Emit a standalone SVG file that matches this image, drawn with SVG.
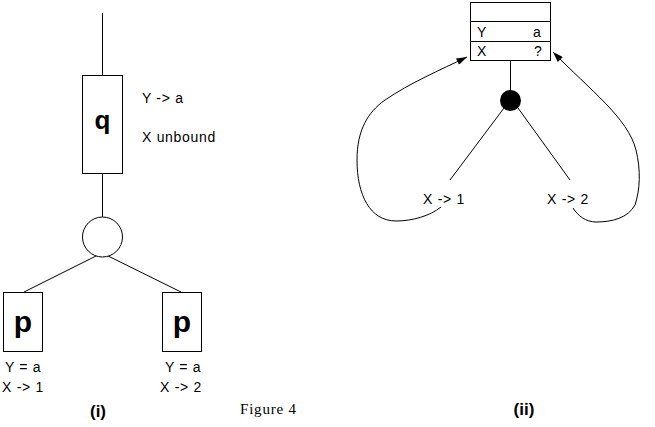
<svg xmlns="http://www.w3.org/2000/svg" width="655" height="427" viewBox="0 0 655 427">
<defs>
<style>
.ln{stroke:#000;stroke-width:1;fill:none}
.box{stroke:#000;stroke-width:1;fill:#fff}
.t{font-family:"Liberation Sans",Arial,sans-serif;font-size:14px;letter-spacing:0.7px;fill:#000}
.big{font-family:"Liberation Sans",Arial,sans-serif;font-weight:bold;fill:#000;text-anchor:middle}
.lab{font-family:"Liberation Sans",Arial,sans-serif;font-weight:bold;font-size:17px;fill:#000;text-anchor:middle}
.ser{font-family:"Liberation Serif","Times New Roman",serif;font-size:15px;letter-spacing:0.8px;fill:#000}
</style>
<marker id="ah" viewBox="0 0 12 8" refX="12" refY="4" markerWidth="12" markerHeight="7" markerUnits="userSpaceOnUse" orient="auto">
<path d="M0 0 L12 4 L0 8 Z" fill="#000"/>
</marker>
</defs>
<rect width="655" height="427" fill="#fff"/>
<g id="connectors">
<line class="ln" x1="102.5" y1="13" x2="102.5" y2="75"/>
<line class="ln" x1="102.5" y1="173" x2="102.5" y2="217"/>
<line class="ln" x1="102" y1="253" x2="24" y2="292"/>
<line class="ln" x1="102" y1="253" x2="181" y2="292"/>
<line class="ln" x1="510.5" y1="60" x2="510.5" y2="92"/>
<line class="ln" x1="504" y1="108" x2="450" y2="180"/>
<line class="ln" x1="518" y1="108" x2="570" y2="180"/>
<path class="ln" marker-end="url(#ah)" d="M441 207 C430 216,412 221,396 221 C370 221,357 195,357 160 C357 130,368 112,385 100 C410 83,440 70,467 57"/>
<path class="ln" marker-end="url(#ah)" d="M573 208 C578 216,586 222,596 222 C612 222,628 218,635 205 C640 190,641 170,636 150 C628 118,590 90,553 52"/>
</g>
<g id="q">
<rect class="box" x="82.5" y="75.5" width="40" height="98"/>
<text class="big" x="102.5" y="129" font-size="26">q</text>
<text class="t" x="142" y="103">Y -&gt; a</text>
<text class="t" x="142" y="142">X unbound</text>
</g>
<g id="or">
<circle class="box" cx="102.5" cy="237" r="20"/>
</g>
<g id="p1">
<rect class="box" x="3.5" y="292.5" width="39" height="59"/>
<text class="big" x="23" y="332" font-size="30">p</text>
<text class="t" x="5" y="372">Y = a</text>
<text class="t" x="2" y="392">X -&gt; 1</text>
</g>
<g id="p2">
<rect class="box" x="162.5" y="292.5" width="39" height="59"/>
<text class="big" x="182" y="332" font-size="30">p</text>
<text class="t" x="165" y="372">Y = a</text>
<text class="t" x="160" y="392">X -&gt; 2</text>
</g>
<g id="table">
<rect class="box" x="470.5" y="2.5" width="80" height="58"/>
<line class="ln" x1="470.5" y1="21.5" x2="550.5" y2="21.5"/>
<line class="ln" x1="470.5" y1="41.5" x2="550.5" y2="41.5"/>
<text class="t" x="477" y="37">Y</text>
<text class="t" x="533" y="37">a</text>
<text class="t" x="477" y="56">X</text>
<text class="t" x="534" y="56">?</text>
</g>
<g id="dot">
<circle cx="510.5" cy="100.5" r="10.5" fill="#000"/>
</g>
<g id="x1"><text class="t" x="423" y="204">X -&gt; 1</text></g>
<g id="x2"><text class="t" x="547" y="204">X -&gt; 2</text></g>
<g id="labels">
<text class="lab" x="98" y="417">(i)</text>
<text class="ser" x="240" y="414">Figure 4</text>
<text class="lab" x="524" y="415">(ii)</text>
</g>
</svg>
